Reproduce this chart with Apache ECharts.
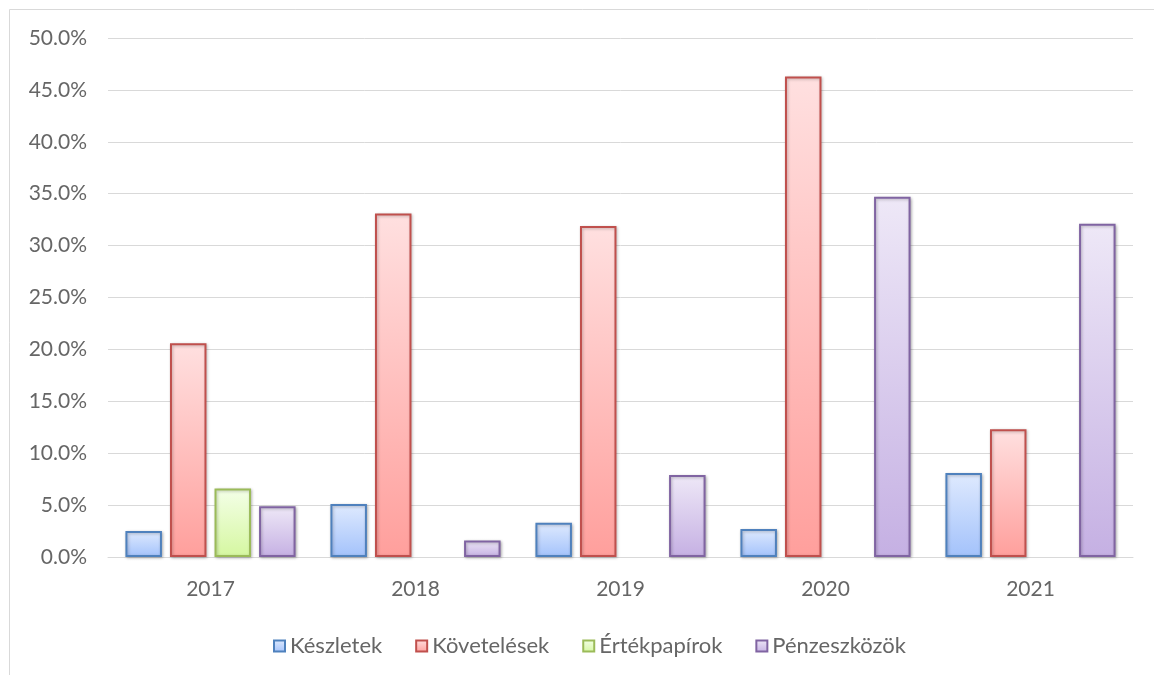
<!DOCTYPE html>
<html>
<head>
<meta charset="utf-8">
<script src="https://cdn.jsdelivr.net/npm/echarts@6/dist/echarts.min.js"></script>
<style>
  html, body { margin: 0; padding: 0; background: #ffffff; }
  #chart { width: 1154px; height: 675px; }
</style>
</head>
<body>
<div id="chart"></div>
<script>
// Years on the category axis
const years = ['2017', '2018', '2019', '2020', '2021'];
// Shares per asset group, in percent (null = no value that year)
const keszletek = [2.5, 5.1, 3.3, 2.7, 8.1];
const kovetelesek = [20.6, 33.1, 31.9, 46.3, 12.3];
const ertekpapirok = [6.6, null, null, null, null];
const penzeszkozok = [4.9, 1.6, 7.9, 34.7, 32.1];
// Y axis ticks
const yMin = 0, yMax = 50, yStep = 5;

const FONT = 'Lato, "Open Sans", sans-serif';
const TEXT = '#666666';

function grad(top, bottom) {
  return new echarts.graphic.LinearGradient(0, 0, 0, 1, [
    { offset: 0, color: top },
    { offset: 1, color: bottom }
  ]);
}

function barSeries(name, data, top, bottom, border) {
  return {
    name: name,
    type: 'bar',
    data: data,
    barGap: '22%',
    barCategoryGap: '17%',
    itemStyle: {
      color: grad(top, bottom),
      borderColor: border,
      borderWidth: 2,
      shadowColor: 'rgba(0,0,0,0.25)',
      shadowBlur: 3,
      shadowOffsetX: 1,
      shadowOffsetY: 1
    },
    emphasis: { disabled: true }
  };
}

const chart = echarts.init(document.getElementById('chart'), null, { renderer: 'canvas' });
chart.setOption({
  backgroundColor: '#ffffff',
  animation: false,
  graphic: [{
    type: 'rect',
    shape: { x: 9.5, y: 9.5, width: 1300, height: 800 },
    style: { fill: 'none', stroke: '#d9d9d9', lineWidth: 1 },
    silent: true,
    z: -1
  }],
  grid: { left: 108, right: 21, top: 38, bottom: 118 },
  legend: {
    top: 630,
    left: 268,
    itemWidth: 11,
    itemHeight: 11,
    itemGap: 33,
    icon: 'rect',
    textStyle: { color: TEXT, fontFamily: FONT, fontSize: 22 },
    data: ['Készletek', 'Követelések', 'Értékpapírok', 'Pénzeszközök']
  },
  xAxis: {
    type: 'category',
    data: years,
    axisTick: { show: false },
    axisLine: { lineStyle: { color: '#d9d9d9', width: 1 } },
    axisLabel: { color: TEXT, fontFamily: FONT, fontSize: 21, margin: 22 }
  },
  yAxis: {
    type: 'value',
    min: yMin,
    max: yMax,
    interval: yStep,
    axisLine: { show: false },
    axisTick: { show: false },
    splitLine: { lineStyle: { color: '#d9d9d9', width: 1 } },
    axisLabel: {
      color: TEXT, fontFamily: FONT, fontSize: 21, margin: 21,
      formatter: v => v.toFixed(1) + '%'
    }
  },
  series: [
    barSeries('Készletek', keszletek, '#dfeafe', '#a3c2fb', '#4f81bd'),
    barSeries('Követelések', kovetelesek, '#ffe0e0', '#ff9f9c', '#c0504d'),
    barSeries('Értékpapírok', ertekpapirok, '#f4ffe8', '#d5f7a0', '#9bbb59'),
    barSeries('Pénzeszközök', penzeszkozok, '#eee8f7', '#c5b0e3', '#8064a2')
  ]
});
</script>
</body>
</html>
